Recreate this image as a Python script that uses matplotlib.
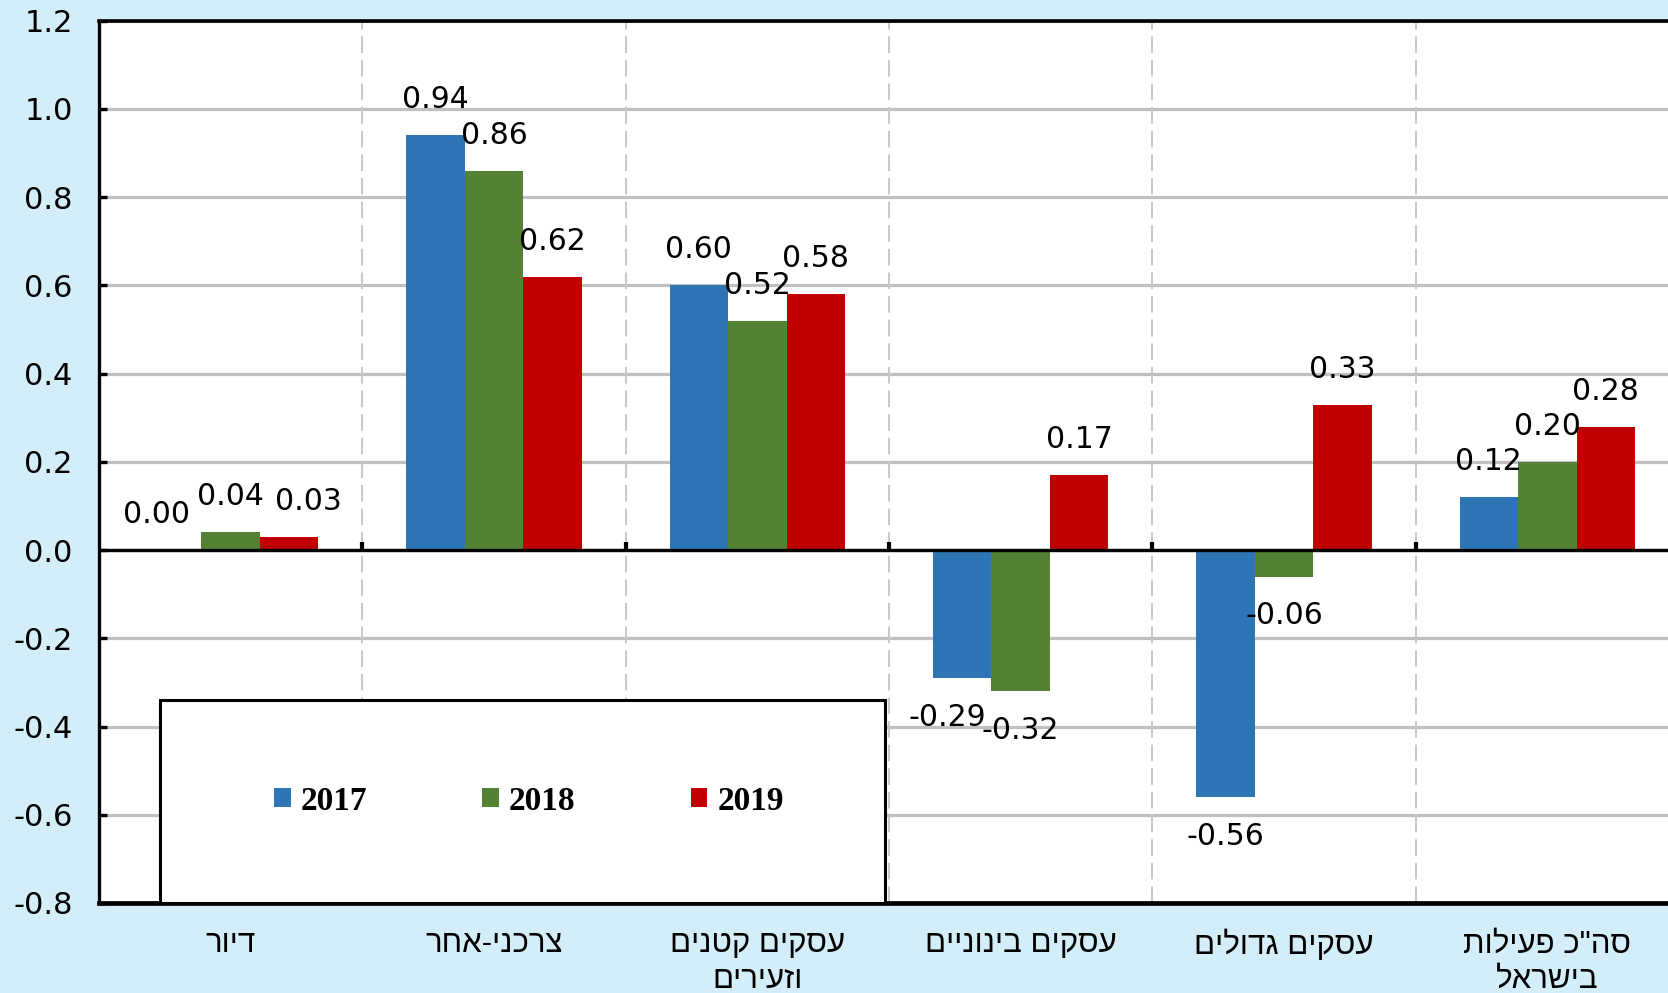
import matplotlib
matplotlib.use("Agg")
import matplotlib.pyplot as plt
from matplotlib.patches import Rectangle, Patch
from matplotlib.ticker import FormatStrFormatter, FixedLocator
import numpy as np

# ---- data ----
categories = ["דיור", "צרכני-אחר", "עסקים קטנים\nוזעירים", "עסקים בינוניים",
              "עסקים גדולים", "סה\"כ פעילות\nבישראל"]
years = ["2017", "2018", "2019"]
v2017 = [0.00, 0.94, 0.60, -0.29, -0.56, 0.12]
v2018 = [0.04, 0.86, 0.52, -0.32, -0.06, 0.20]
v2019 = [0.03, 0.62, 0.58, 0.17, 0.33, 0.28]
series = [v2017, v2018, v2019]
colors = ["#2E75B6", "#548235", "#C00000"]
yticks = [-0.8, -0.6, -0.4, -0.2, 0.0, 0.2, 0.4, 0.6, 0.8, 1.0, 1.2]

# horizontal nudges (points) of a few data labels to avoid overlaps, as in the original
label_nudge = {(0, 0): -11.5, (2, 0): 13.5, (0, 3): -10.5}

plt.rcParams["axes.unicode_minus"] = False
plt.rcParams["lines.scale_dashes"] = False

def visual(s):
    # matplotlib has no bidi support: reverse each line for RTL display
    return "\n".join(line[::-1] for line in s.split("\n"))

W, H = 1668, 993
fig = plt.figure(figsize=(W / 100, H / 100), dpi=100)
bg = "#D4EEF9"
fig.patch.set_facecolor(bg)

left_px = 99
top_px, bot_px = 20.7, 903
ax = fig.add_axes([left_px / W, 1 - bot_px / H, 1580 / W, (bot_px - top_px) / H])
ax.set_facecolor("white")

n = len(categories)
x = np.arange(n)
bw = 2 / 9
for i, (vals, c) in enumerate(zip(series, colors)):
    xs = x + (i - 1) * bw
    ax.bar(xs, vals, width=bw, color=c, zorder=3, label=years[i])
    for j, (xi, v) in enumerate(zip(xs, vals)):
        off = 19.4 if v >= 0 else -34.5
        dx = label_nudge.get((i, j), 0)
        ax.annotate(f"{v:.2f}", xy=(xi, v), xytext=(dx, off), textcoords="offset points",
                    ha="center", va="baseline", fontsize=21.5, family="DejaVu Sans",
                    color="black", zorder=6)

ax.set_xlim(-0.5, n - 0.5)
ax.set_ylim(-0.8, 1.2)

# grid
ax.yaxis.set_major_locator(FixedLocator(yticks))
ax.yaxis.set_major_formatter(FormatStrFormatter("%.1f"))
ax.yaxis.grid(True, color="#C0C0C0", lw=2.3, zorder=1)
ax.set_axisbelow(True)

# group separators
bounds = np.arange(n - 1) + 0.5
ax.vlines(bounds, -0.8, 1.2, colors="#C8C8C8", lw=1.4, linestyles=(0, (12, 5)), zorder=1)

# zero line and its ticks
ax.axhline(0, color="black", lw=2.4, zorder=4)
ax.vlines(bounds, 0, 0.018, colors="black", lw=3, zorder=4)

# spines
ax.spines["right"].set_visible(False)
ax.spines["top"].set_linewidth(2.6)
ax.spines["left"].set_linewidth(2.4)
ax.spines["bottom"].set_linewidth(3.4)
for s in ["top", "left", "bottom"]:
    ax.spines[s].set_color("black")
    ax.spines[s].set_zorder(5)

ax.tick_params(axis="y", direction="in", length=6, width=2.4, pad=19,
               labelsize=22, colors="black")
for lab in ax.get_yticklabels():
    lab.set_family("DejaVu Sans")

ax.set_xticks(x)
ax.set_xticklabels([visual(c) for c in categories], fontsize=22.5,
                   family=["Liberation Sans", "DejaVu Sans"], linespacing=1.25)
ax.tick_params(axis="x", length=0, pad=19)

# legend box
lx0, lx1 = (160 - left_px) / 1580, (885 - left_px) / 1580
ly1 = (903 - 700) / (903 - 20.7)
box = Rectangle((lx0, 0.0), lx1 - lx0, ly1, transform=ax.transAxes,
                facecolor="white", edgecolor="black", lw=2.2, zorder=7, clip_on=False)
ax.add_patch(box)
handles = [Patch(facecolor=c, edgecolor="none") for c in colors]
leg = ax.legend(handles, years, loc="center",
                bbox_to_anchor=((529 - left_px) / 1580, (903 - 801) / (903 - 20.7)),
                ncol=3, frameon=False, handlelength=0.5, handleheight=0.5,
                handletextpad=0.3, columnspacing=3.45,
                prop={"family": "Liberation Serif", "weight": "bold", "size": 24})
leg.set_zorder(8)

fig.savefig("out.png", dpi=100, facecolor=bg)
